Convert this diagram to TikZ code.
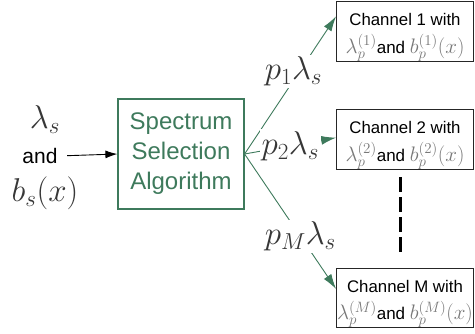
\RequirePackage{fix-cm}
\documentclass[tikz,border=0pt]{standalone}
\usepackage{fontspec}
\setmainfont{Liberation Sans}
\usetikzlibrary{arrows.meta,calc}

% larger indices for the channel formulas
\DeclareMathSizes{21}{21}{15}{12}

\definecolor{algogreen}{RGB}{62,122,92}
\definecolor{mathdark}{RGB}{55,55,55}
\definecolor{mathgray}{RGB}{120,120,120}

% text of one channel box
\newcommand{\chanlabel}[1]{\rule{0pt}{24pt}Channel #1 with\\%
  {\fontsize{21}{22}\selectfont\textcolor{mathgray}{$\lambda_p^{(#1)}$}}%
  {\fontsize{17}{22}\selectfont and }%
  {\fontsize{21}{22}\selectfont\textcolor{mathgray}{$b_p^{(#1)}(x)$}}}

\begin{document}
\begin{tikzpicture}[x=1pt,y=-1pt,
  bigmath/.style={font=\fontsize{33}{40}\selectfont, text=mathdark, inner sep=1pt},
  chanbox/.style={draw=black!85, line width=0.9pt, minimum width=137pt,
    minimum height=59pt, align=center, inner sep=0pt,
    font=\fontsize{16.8}{27.5}\selectfont},
  feed/.style={draw=algogreen, line width=0.9pt, -{Latex[length=15pt,width=9pt]}},
  rate/.style={bigmath, fill=white, inner sep=2pt}
]
\useasboundingbox (0,0) rectangle (475,333);

% input quantities
\node[bigmath] (lam) at (45,120) {$\lambda_s$};
\node[font=\fontsize{21}{24}\selectfont, inner sep=0pt] (andtxt) at (40,156) {and};
\node[bigmath] (bsx) at (45,193) {$b_s(x)$};

% selection block
\node[draw=algogreen, line width=1.2pt, text=algogreen, minimum width=126pt,
  minimum height=110pt, align=center, inner sep=0pt,
  font=\fontsize{24}{30}\selectfont] (alg) at (181,154) {Spectrum\\Selection\\Algorithm};

% channels
\node[chanbox] (ch1) at (405,31.5) {\chanlabel{1}};
\node[chanbox] (ch2) at (405,139.5) {\chanlabel{2}};
\node[chanbox] (chM) at (405,298) {\chanlabel{M}};

% input arrow
\draw[line width=0.9pt, -{Latex[length=12pt,width=8pt]}, shorten <=9.5pt]
  (andtxt.east) -- (alg.west);

% split towards the channels
\draw[feed] (alg.east) -- ($(ch1.north west)!0.25!(ch1.south west)$)
  node[rate, pos=0.6, xshift=-6pt] (r1) {$p_1\lambda_s$};
\draw[feed] (alg.east) -- ($(ch2.north west)!0.47!(ch2.south west)$)
  node[rate, pos=0.5] (r2) {$p_2\lambda_s$};
\draw[feed] (alg.east) -- ($(chM.north west)!0.35!(chM.south west)$)
  node[rate, pos=0.61] (rM) {$p_M\lambda_s$};

% omitted channels
\coordinate (dtop) at (400,177);
\coordinate (dbot) at (400,252);
\draw[line width=3pt, dash pattern=on 15pt off 5pt] (dtop) -- (dbot);
\end{tikzpicture}
\end{document}
